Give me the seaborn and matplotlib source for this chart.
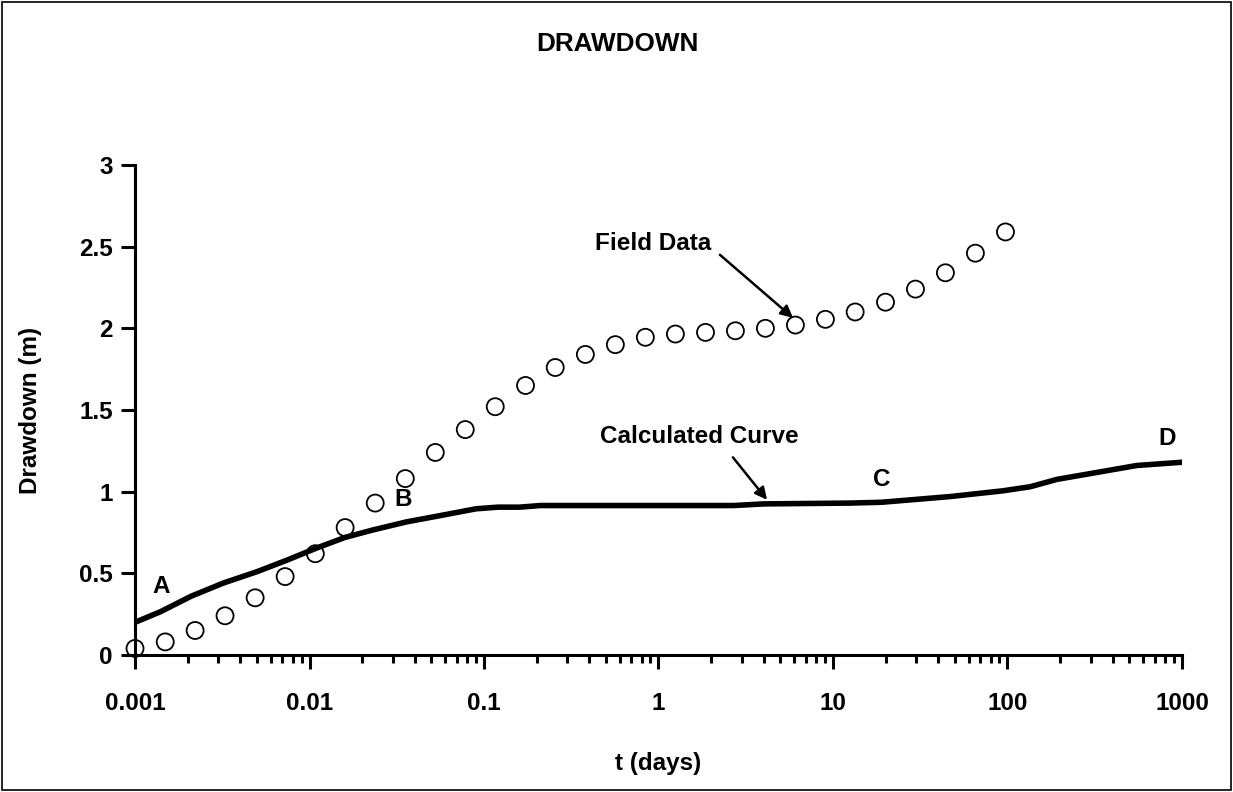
import numpy as np
import pandas as pd
import matplotlib
matplotlib.use("Agg")
import matplotlib.pyplot as plt
import matplotlib.ticker as mticker
from matplotlib.patches import Rectangle
import seaborn as sns

# ==================================================
# DATA
# ==================================================
field_t = [0.001, 0.00149, 0.00221, 0.00328, 0.00488, 0.00725, 0.0108, 0.016,
           0.0238, 0.0354, 0.0526, 0.0781, 0.116, 0.173, 0.256, 0.381, 0.566,
           0.841, 1.25, 1.86, 2.76, 4.1, 6.09, 9.05, 13.4, 20.0, 29.7, 44.1,
           65.5, 97.4]
field_s = [0.04, 0.08, 0.15, 0.24, 0.35, 0.48, 0.62, 0.78, 0.93, 1.08, 1.24,
           1.38, 1.52, 1.65, 1.76, 1.84, 1.90, 1.945, 1.965, 1.975, 1.985, 2.00,
           2.02, 2.055, 2.10, 2.16, 2.24, 2.34, 2.46, 2.59]

calc_t = [0.001, 0.0014, 0.0021, 0.0032, 0.005, 0.0074, 0.011, 0.016, 0.023,
          0.036, 0.054, 0.09, 0.12, 0.16, 0.21, 1.0, 2.7, 4.0, 12.5, 19.0,
          47.0, 94.0, 135.0, 192.0, 550.0, 1000.0]
calc_s = [0.20, 0.265, 0.36, 0.44, 0.51, 0.58, 0.655, 0.72, 0.765, 0.815,
          0.85, 0.895, 0.905, 0.905, 0.915, 0.915, 0.915, 0.925, 0.93, 0.935,
          0.97, 1.005, 1.03, 1.075, 1.16, 1.18]

x_ticks = [0.001, 0.01, 0.1, 1, 10, 100, 1000]
x_tick_labels = ["0.001", "0.01", "0.1", "1", "10", "100", "1000"]
y_ticks = [0, 0.5, 1, 1.5, 2, 2.5, 3]
y_tick_labels = ["0", "0.5", "1", "1.5", "2", "2.5", "3"]

# point labels along the curve
point_names = ["A", "B", "C", "D"]
point_t = [0.00142, 0.0342, 19.0, 817.0]
point_s = [0.42, 0.95, 1.076, 1.327]

field_df = pd.DataFrame({"t": field_t, "s": field_s})
calc_df = pd.DataFrame({"t": calc_t, "s": calc_s})

# ==================================================
# STYLE
# ==================================================
sns.set_style("ticks", {"text.color": "black", "axes.labelcolor": "black",
                        "xtick.color": "black", "ytick.color": "black",
                        "axes.edgecolor": "black"})
plt.rcParams["font.family"] = ["Liberation Sans", "DejaVu Sans"]
plt.rcParams["font.weight"] = "bold"
FS = 17.5

fig = plt.figure(figsize=(12.33, 7.92), dpi=100)
ax = fig.add_axes([0.1095, 0.173, 0.8491, 0.6187])

# ==================================================
# PLOT
# ==================================================
sns.lineplot(data=calc_df, x="t", y="s", ax=ax, color="black",
             linewidth=4.0, solid_capstyle="round", zorder=2)
sns.scatterplot(data=field_df, x="t", y="s", ax=ax, s=150,
                facecolors="none", edgecolor="black", linewidth=1.3,
                zorder=3, clip_on=False)

ax.set_xscale("log")
ax.set_xlim(0.001, 1000)
ax.set_ylim(0, 3)

ax.xaxis.set_major_locator(mticker.FixedLocator(x_ticks))
ax.xaxis.set_major_formatter(mticker.FixedFormatter(x_tick_labels))
ax.xaxis.set_minor_locator(mticker.LogLocator(base=10, subs=np.arange(2, 10)))
ax.xaxis.set_minor_formatter(mticker.NullFormatter())
ax.yaxis.set_major_locator(mticker.FixedLocator(y_ticks))
ax.yaxis.set_major_formatter(mticker.FixedFormatter(y_tick_labels))

ax.tick_params(axis="x", which="major", direction="out", length=10, width=2.2,
               pad=17, labelsize=FS, colors="black")
ax.tick_params(axis="x", which="minor", direction="out", length=6, width=2.2,
               colors="black")
ax.tick_params(axis="y", which="major", direction="out", length=10, width=2.2,
               pad=6, labelsize=FS, colors="black")
for lab in ax.get_xticklabels() + ax.get_yticklabels():
    lab.set_fontweight("bold")

sns.despine(ax=ax)
ax.spines["left"].set_linewidth(2.2)
ax.spines["bottom"].set_linewidth(2.2)

ax.set_xlabel("t (days)", fontsize=FS, fontweight="bold", color="black")
ax.set_ylabel("Drawdown (m)", fontsize=FS, fontweight="bold", color="black")
ax.xaxis.set_label_coords(0.5, -0.198)
ax.yaxis.set_label_coords(-0.089, 0.5)

fig.text(0.501, 1 - 44 / 792, "DRAWDOWN", ha="center", va="center",
         fontsize=18.8, fontweight="bold", color="black")

# ==================================================
# ANNOTATIONS
# ==================================================
for name, tx, sy in zip(point_names, point_t, point_s):
    ax.text(tx, sy, name, ha="center", va="center", fontsize=FS,
            fontweight="bold", color="black")

ax.text(0.93, 2.52, "Field Data", ha="center", va="center", fontsize=FS,
        fontweight="bold", color="black")
ax.annotate("", xy=(5.9, 2.064), xytext=(2.25, 2.45),
            arrowprops=dict(arrowstyle="-|>", color="black", lw=1.8,
                            mutation_scale=18, shrinkA=0, shrinkB=0))

ax.text(1.71, 1.335, "Calculated Curve", ha="center", va="center",
        fontsize=FS, fontweight="bold", color="black")
ax.annotate("", xy=(4.19, 0.95), xytext=(2.67, 1.21),
            arrowprops=dict(arrowstyle="-|>", color="black", lw=1.8,
                            mutation_scale=18, shrinkA=0, shrinkB=0))

# figure border
fig.patches.append(Rectangle((0.002, 0.002), 0.996, 0.996,
                             transform=fig.transFigure, fill=False,
                             edgecolor="black", linewidth=1.2))

fig.savefig("out.png", dpi=100)
